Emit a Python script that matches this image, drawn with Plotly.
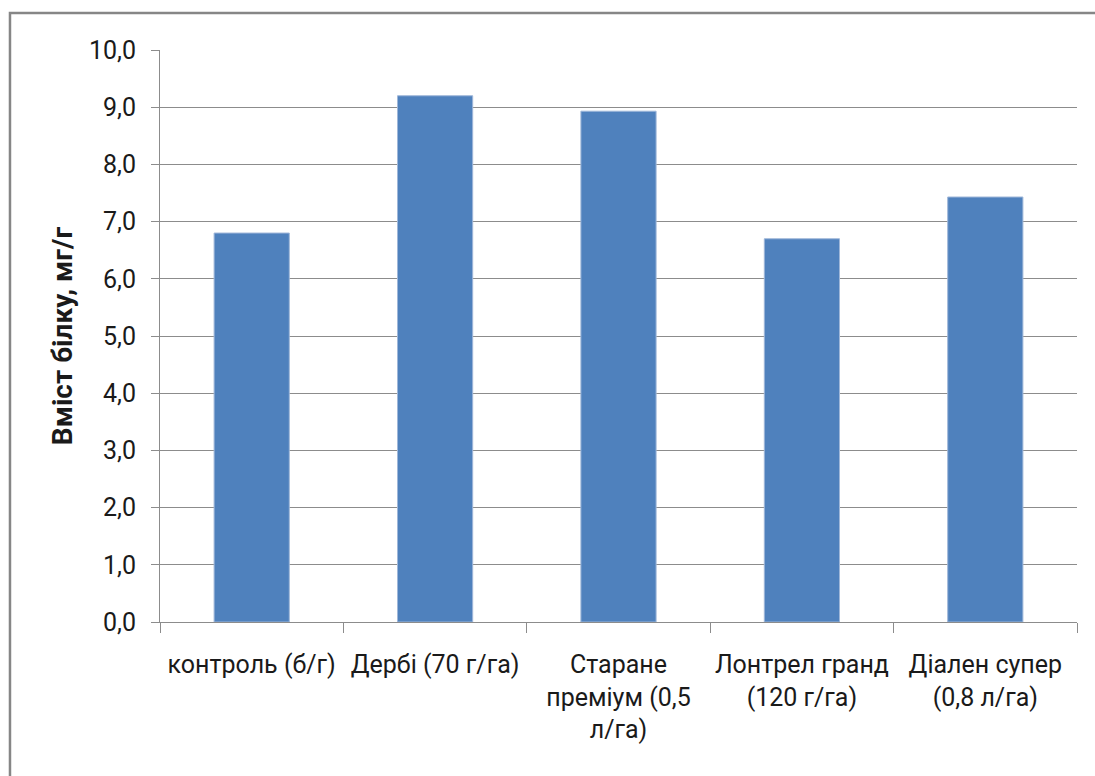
import plotly.graph_objects as go

# Treatments and protein content (mg/g)
categories = [
    "контроль (б/г)",
    "Дербі (70 г/га)",
    "Старане<br>преміум (0,5<br>л/га)",
    "Лонтрел гранд<br>(120 г/га)",
    "Діален супер<br>(0,8 л/га)",
]
protein = [6.8, 9.2, 8.93, 6.7, 7.43]
y_ticks = [0, 1, 2, 3, 4, 5, 6, 7, 8, 9, 10]

FONT = "Roboto, sans-serif"
GRID = "#8c8c8c"

fig = go.Figure(
    go.Bar(
        x=categories,
        y=protein,
        width=0.41,
        marker=dict(color="#4f81bd", line=dict(color="#9fb7d9", width=1)),
    )
)

fig.update_layout(
    width=1095,
    height=776,
    margin=dict(l=160, r=18, t=50, b=154),
    paper_bgcolor="white",
    plot_bgcolor="white",
    separators=", ",
    showlegend=False,
    font=dict(family=FONT, size=25, color="#1a1a1a"),
    xaxis=dict(
        type="category",
        showline=True,
        linecolor=GRID,
        linewidth=1,
        ticks="outside",
        tickson="boundaries",
        ticklen=10,
        tickcolor=GRID,
        showgrid=False,
        ticklabelstandoff=20,
        tickfont=dict(family=FONT, size=25),
    ),
    yaxis=dict(
        range=[0, 10],
        tickvals=y_ticks,
        tickformat=".1f",
        showline=True,
        linecolor=GRID,
        linewidth=1,
        ticks="outside",
        ticklen=8,
        tickcolor=GRID,
        showgrid=True,
        gridcolor=GRID,
        gridwidth=1,
        zeroline=False,
        ticklabelstandoff=10,
        tickfont=dict(family=FONT, size=25),
        title=dict(
            text="<b>Вміст білку, мг/г</b>",
            font=dict(family=FONT, size=28),
            standoff=8,
        ),
    ),
    shapes=[
        dict(
            type="rect",
            xref="paper",
            yref="paper",
            x0=-0.1636,
            x1=1.03,
            y0=-0.28,
            y1=1.0647,
            line=dict(color="#868686", width=2.5),
            fillcolor="rgba(0,0,0,0)",
            layer="below",
        )
    ],
)

fig.write_html("out.html")
